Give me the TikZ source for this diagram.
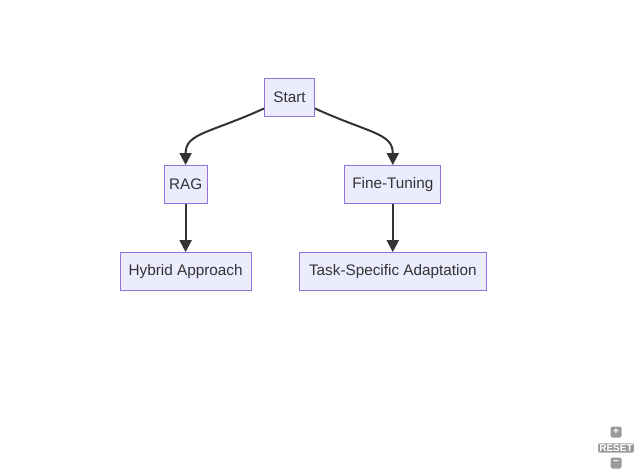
\documentclass[tikz,border=0pt]{standalone}
\usepackage{fontspec}
\setmainfont{Liberation Sans}
\usetikzlibrary{arrows.meta}
\definecolor{boxfill}{HTML}{ECECFF}
\definecolor{boxline}{HTML}{9370DB}
\definecolor{ink}{HTML}{333333}
\definecolor{btngray}{HTML}{9A9A9A}
\begin{document}
\begin{tikzpicture}[x=1pt, y=-1pt,
    box/.style={draw=boxline, fill=boxfill, line width=1pt, minimum height=38pt, inner sep=0pt, text=ink, font=\fontsize{15.3}{18}\selectfont},
    edge/.style={draw=ink, line width=2pt, -{Triangle[length=12pt, width=12pt]}},
    btn/.style={fill=btngray, text=white, rounded corners=1.5pt, inner sep=1.2pt, font=\fontsize{10}{11}\bfseries}]
          \useasboundingbox (0, 0) rectangle (640, 474);
          \node [box, minimum width=50pt] (start) at (289.5, 97) {Start};
          \node [box, minimum width=43pt] (rag) at (185.6, 184.5) {RAG};
          \node [box, minimum width=95.7pt] (finetune) at (392.8, 184.5) {Fine-Tuning};
          \node [box, minimum width=131pt] (hybrid) at (185.6, 271.6) {Hybrid Approach};
          \node [box, minimum width=186.7pt] (adapt) at (392.8, 271.6) {Task-Specific Adaptation};
          \draw [edge] ([yshift=8pt]start.south west) .. controls +(-55, 25) and +(0, -32) .. (rag.north);
          \draw [edge] ([yshift=8pt]start.south east) .. controls +(55, 25) and +(0, -32) .. (finetune.north);
          \draw [edge] (rag.south) -- (hybrid.north);
          \draw [edge] (finetune.south) -- (adapt.north);
          \node [btn, minimum size=11pt] (zoomin) at (616, 432) {+};
          \node [btn] (reset) at (616, 448) {RESET};
          \node [btn, minimum size=11pt] (zoomout) at (616, 463) {−};
        \end{tikzpicture}
\end{document}
